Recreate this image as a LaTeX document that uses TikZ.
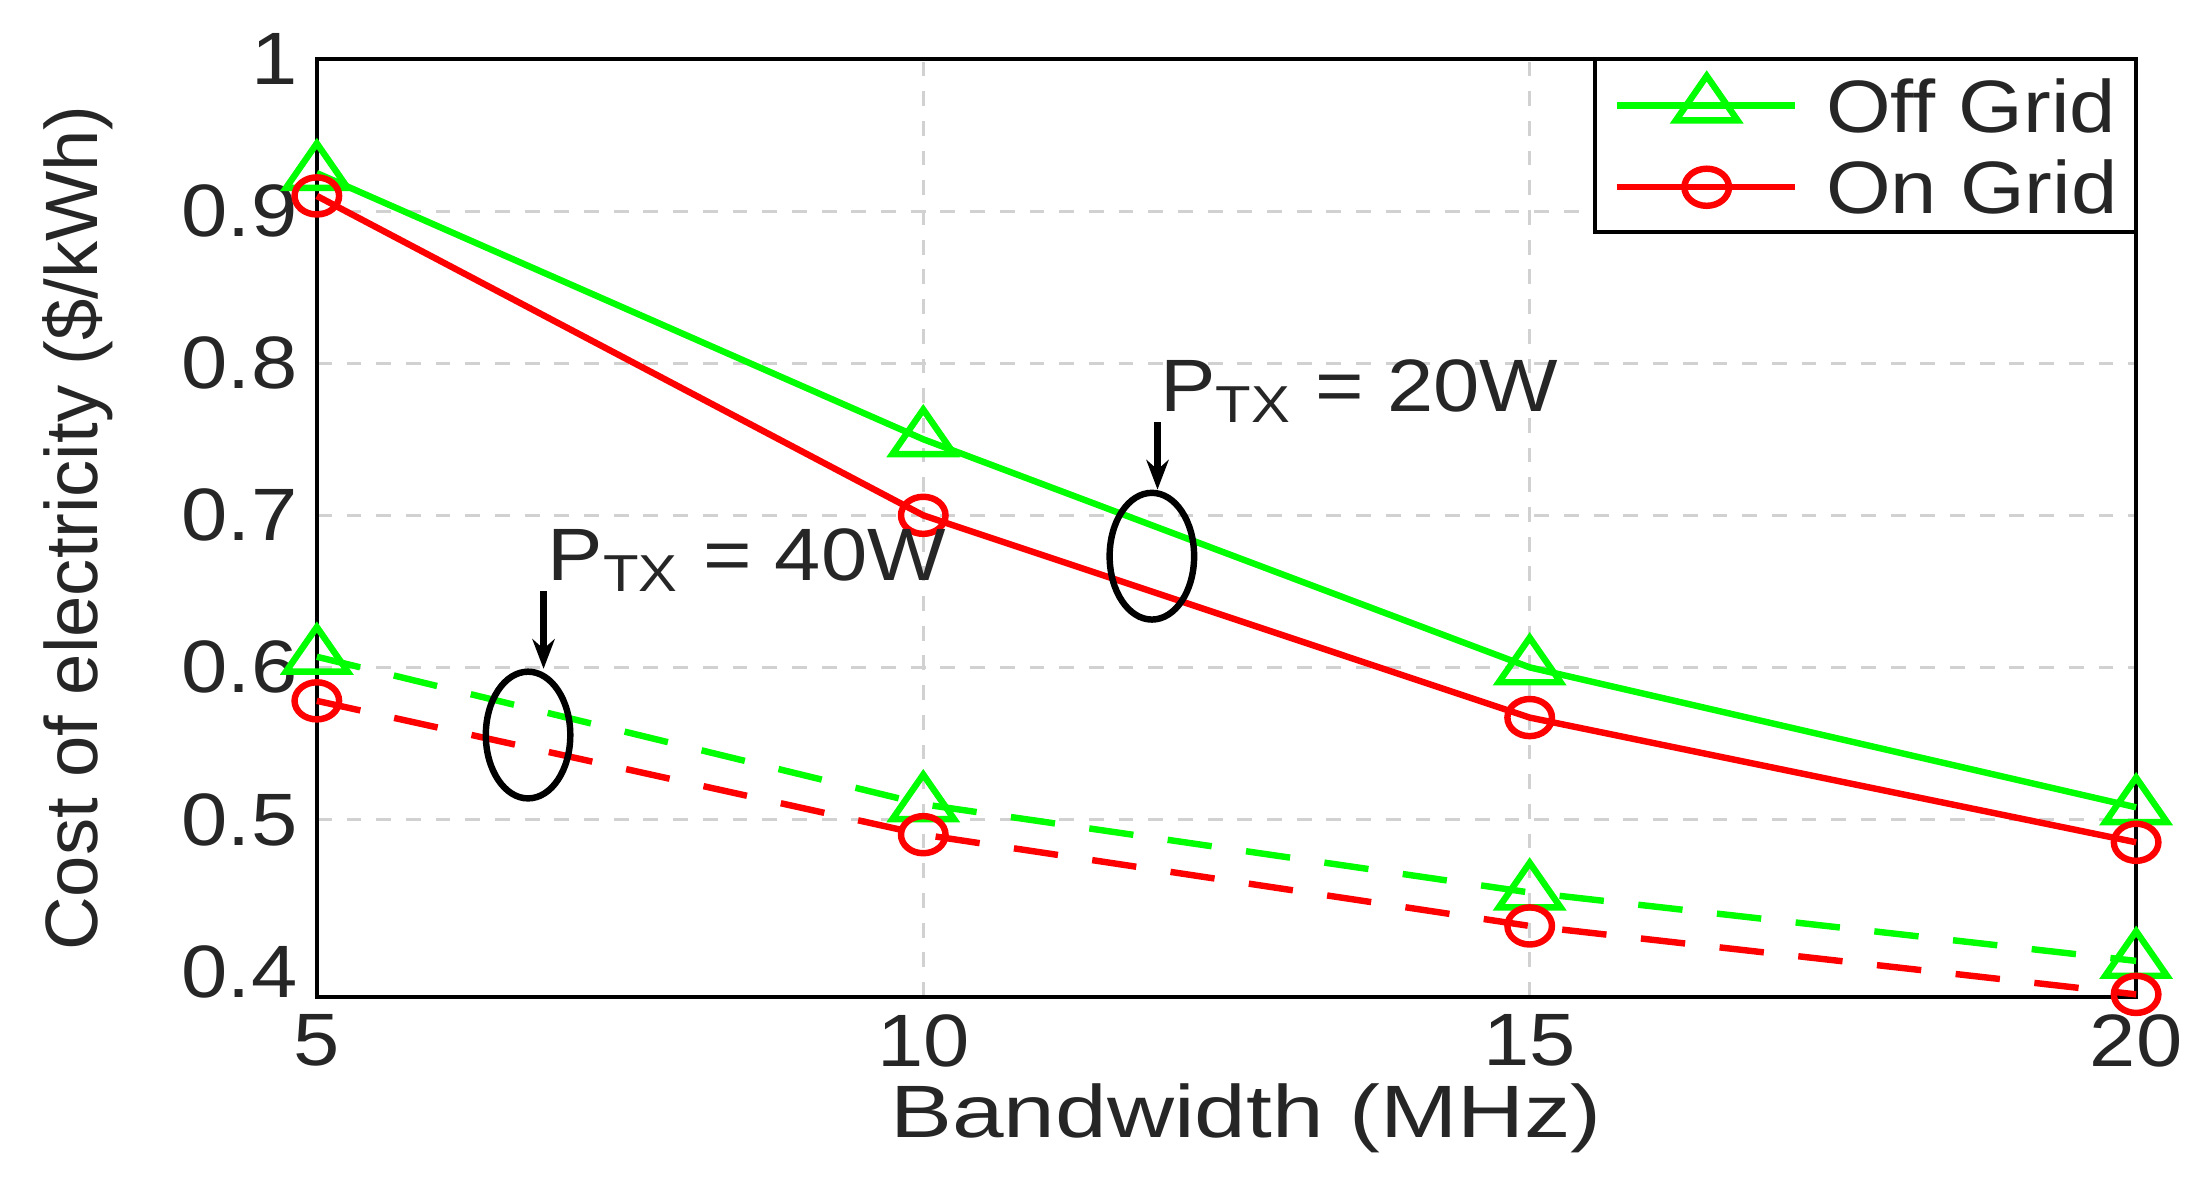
\documentclass[tikz,border=0pt]{standalone}
\usepackage{fontspec}
\setmainfont{Liberation Sans}
\usetikzlibrary{arrows.meta,shapes.geometric}
\begin{document}
\begin{tikzpicture}[
  fnt/.style={font=\fontsize{15}{17}\selectfont, text=black!85},
  lbl/.style={fnt, xscale=1.12},
  offc/.style={draw={rgb,255:red,0;green,255;blue,0}, line width=1.3pt},
  onc/.style={draw=red, line width=1.3pt},
  dsh/.style={dash pattern=on 9pt off 7pt},
  tri/.style={regular polygon, regular polygon sides=3, inner sep=0pt, minimum size=12pt, xscale=1.2, draw={rgb,255:red,0;green,255;blue,0}, line width=1.3pt},
  circ/.style={circle, inner sep=0pt, minimum size=7.5pt, xscale=1.2, draw=red, line width=1.3pt},
  gridl/.style={draw=black!18, dashed, line width=0.6pt}
]
\useasboundingbox[fill=white] (-2.25,-1.39) rectangle (13.43,7.08);
\begin{scope}[x=0.8613cm, y=10.8cm, shift={(-4.3065cm,-4.1396cm)}]
  \foreach \xx in {10,15} \draw[gridl] (\xx,0.3833) -- (\xx,1);
  \foreach \yy in {0.5,0.6,0.7,0.8,0.9} \draw[gridl] (5,\yy) -- (20,\yy);
  \draw[black, line width=0.8pt] (5,0.3833) rectangle (20,1);
  \foreach \xx in {5,10,15,20} \node[lbl, anchor=north] (xt\xx) at (\xx,0.3833) {\xx};
  \foreach \yy in {0.4,0.5,0.6,0.7,0.8,0.9} \node[lbl, anchor=east] (yt\yy) at (5,\yy) {\yy};
  \node[lbl, anchor=east] (yt1) at (5,1) {1};
  \draw[offc] (5,0.925) -- (10,0.75) -- (15,0.6) -- (20,0.508);
  \draw[onc] (5,0.91) -- (10,0.70) -- (15,0.567) -- (20,0.485);
  \draw[offc,dsh] (5,0.607) -- (10,0.51) -- (15,0.452) -- (20,0.407);
  \draw[onc,dsh] (5,0.578) -- (10,0.49) -- (15,0.43) -- (20,0.385);
  \foreach \xx/\yy [count=\i] in {5/0.925,10/0.75,15/0.6,20/0.508,5/0.607,10/0.51,15/0.452,20/0.407}
     \node[tri] (t\i) at (\xx,\yy) {};
  \foreach \xx/\yy [count=\i] in {5/0.91,10/0.70,15/0.567,20/0.485,5/0.578,10/0.49,15/0.43,20/0.385}
     \node[circ] (c\i) at (\xx,\yy) {};
\end{scope}
\node[fnt, xscale=1.25, anchor=south] (xl) at (6.6,-1.23) {Bandwidth (MHz)};
\node[fnt, rotate=90] (yl) at (-1.7,3.33) {Cost of electricity (\$/kWh)};
\draw[black, line width=0.8pt, fill=white] (9.08,5.43) rectangle (12.92,6.66);
\coordinate (la1) at (9.23,6.33); \coordinate (lb1) at (10.5,6.33);
\coordinate (la2) at (9.23,5.75); \coordinate (lb2) at (10.5,5.75);
\draw[offc] (la1) -- (lb1); \node[tri] (lt) at (9.87,6.33) {};
\draw[onc] (la2) -- (lb2); \node[circ] (lc) at (9.87,5.75) {};
\node[lbl, anchor=west] (le1) at (10.58,6.33) {Off Grid};
\node[lbl, anchor=west] (le2) at (10.58,5.75) {On Grid};
\node[draw, ellipse, line width=1.3pt, minimum width=0.6cm, minimum height=0.9cm] (e1) at (5.93,3.13) {};
\node[lbl, anchor=west] (p1) at (5.85,4.3) {P\textsubscript{TX} = 20W};
\coordinate (a1) at (5.97,4.08);
\draw[-{Stealth[length=6pt]}, line width=1.3pt] (a1) -- (a1 |- e1.north);
\node[draw, ellipse, line width=1.3pt, minimum width=0.6cm, minimum height=0.9cm] (e2) at (1.5,1.86) {};
\node[lbl, anchor=west] (p2) at (1.5,3.1) {P\textsubscript{TX} = 40W};
\coordinate (a2) at (1.61,2.88);
\draw[-{Stealth[length=6pt]}, line width=1.3pt] (a2) -- (1.61,2.33);
\end{tikzpicture}
\end{document}
